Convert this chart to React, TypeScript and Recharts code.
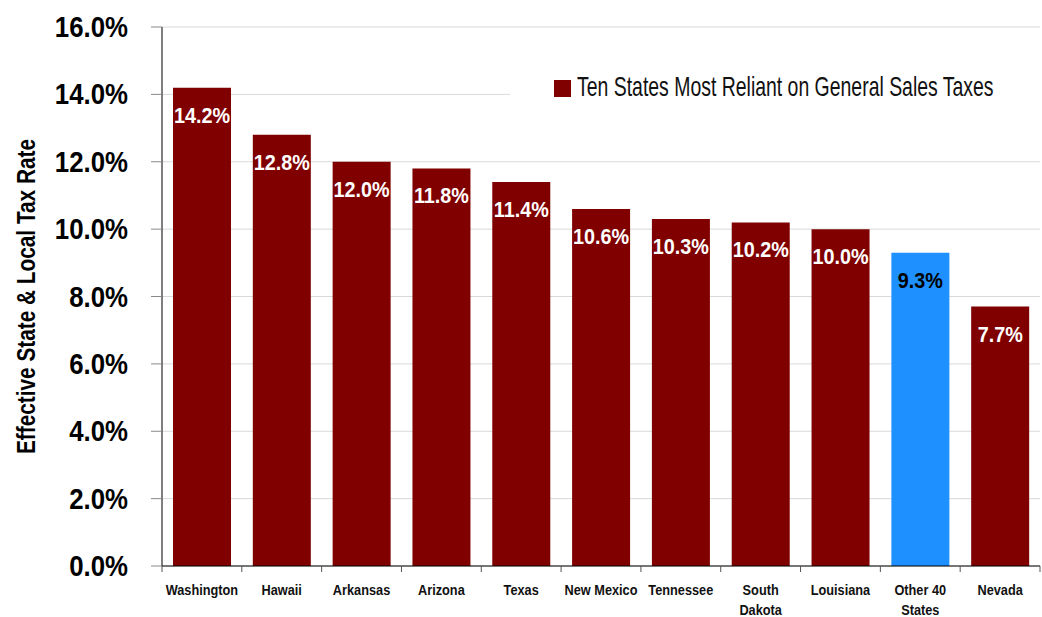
import { ComposedChart, Bar, XAxis, YAxis, CartesianGrid, Legend, LabelList, Cell, Label } from 'recharts'

document.body.style.margin = '0'

const states = ['Washington', 'Hawaii', 'Arkansas', 'Arizona', 'Texas', 'New Mexico', 'Tennessee', 'South Dakota', 'Louisiana', 'Other 40 States', 'Nevada']
const taxRates = [14.2, 12.8, 12.0, 11.8, 11.4, 10.6, 10.3, 10.2, 10.0, 9.3, 7.7]
const yTicks = [0, 2, 4, 6, 8, 10, 12, 14, 16]
const highlight = 'Other 40 States'
const seriesName = 'Ten States Most Reliant on General Sales Taxes'
const yTitle = 'Effective State & Local Tax Rate'

// no condensed fonts in the sandbox, so squeeze Liberation Sans horizontally
const FONT = '"Liberation Sans", Arial, sans-serif'
const RED = '#800000'
const BLUE = '#1e90ff'

const data = states.map((s, i) => ({ state: s, rate: taxRates[i] }))

const W = 1042
const H = 617
const LEFT = 162
const RIGHT = 2
const band = (W - LEFT - RIGHT) / states.length

function Squeezed({ x, y, sx, anchor = 'middle', size, fill = '#000', weight = 'bold', children }: any) {
  return (
    <text
      transform={`translate(${x},${y}) scale(${sx},1)`}
      textAnchor={anchor}
      fontFamily={FONT}
      fontWeight={weight}
      fontSize={size}
      fill={fill}
    >
      {children}
    </text>
  )
}

function StateTick(props: any) {
  const { x, y, payload, index } = props
  const words: string[] = payload.value === 'South Dakota' ? ['South', 'Dakota'] : payload.value === 'Other 40 States' ? ['Other 40', 'States'] : [payload.value]
  const left = x - band / 2
  return (
    <g>
      <line x1={left} y1={y} x2={left} y2={y + 6} stroke="#555" />
      {index === states.length - 1 && <line x1={x + band / 2} y1={y} x2={x + band / 2} y2={y + 6} stroke="#555" />}
      {words.map((w, i) => (
        <Squeezed key={w} x={x} y={y + 29 + i * 20} sx={0.85} size={15} fill="#111">{w}</Squeezed>
      ))}
    </g>
  )
}

function RateTick(props: any) {
  const { x, y, payload } = props
  return (
    <Squeezed x={x} y={y + 10} sx={0.89} anchor="end" size={29}>
      {payload.value.toFixed(1)}%
    </Squeezed>
  )
}

function ValueLabel(props: any) {
  const { x, y, width, value, index } = props
  const fill = states[index] === highlight ? '#000' : '#fff'
  return (
    <Squeezed x={x + width / 2} y={y + 35} sx={0.9} size={22} fill={fill}>
      {value.toFixed(1)}%
    </Squeezed>
  )
}

function YTitle(props: any) {
  const { viewBox } = props
  const cy = viewBox.y + viewBox.height / 2
  return (
    <text
      transform={`translate(35,${cy}) rotate(-90) scale(0.8,1)`}
      textAnchor="middle"
      fontFamily={FONT}
      fontWeight="bold"
      fontSize={26}
    >
      {yTitle}
    </text>
  )
}

function LegendBox() {
  return (
    <svg width={530} height={40} style={{ display: 'block', background: '#fff' }}>
      <rect x={44} y={11} width={17} height={17} fill={RED} />
      <text transform="translate(67,27) scale(0.72,1)" fontFamily={FONT} fontSize={27} fill="#111">
        {seriesName}
      </text>
    </svg>
  )
}

export default function App() {
  return (
    <ComposedChart width={W} height={H} data={data} margin={{ top: 27, right: RIGHT, bottom: 0, left: 0 }} barSize={58}>
      <CartesianGrid vertical={false} stroke="#d9d9d9" />
      <XAxis
        dataKey="state"
        interval={0}
        tickSize={0}
        tickMargin={0}
        tickLine={false}
        axisLine={{ stroke: '#000' }}
        tick={<StateTick />}
        height={51}
      />
      <YAxis
        domain={[0, 16]}
        ticks={yTicks}
        width={LEFT}
        tickSize={11}
        tickMargin={23}
        tickLine={{ stroke: '#888' }}
        axisLine={{ stroke: '#000' }}
        tick={<RateTick />}
      >
        <Label content={<YTitle />} />
      </YAxis>
      <Legend
        layout="horizontal"
        verticalAlign="middle"
        align="center"
        content={<LegendBox />}
        wrapperStyle={{ top: 69, left: 510, width: 530 }}
      />
      <Bar dataKey="rate" name={seriesName} fill={RED} isAnimationActive={false}>
        {data.map((d) => (
          <Cell key={d.state} fill={d.state === highlight ? BLUE : RED} />
        ))}
        <LabelList dataKey="rate" content={<ValueLabel />} />
      </Bar>
    </ComposedChart>
  )
}
